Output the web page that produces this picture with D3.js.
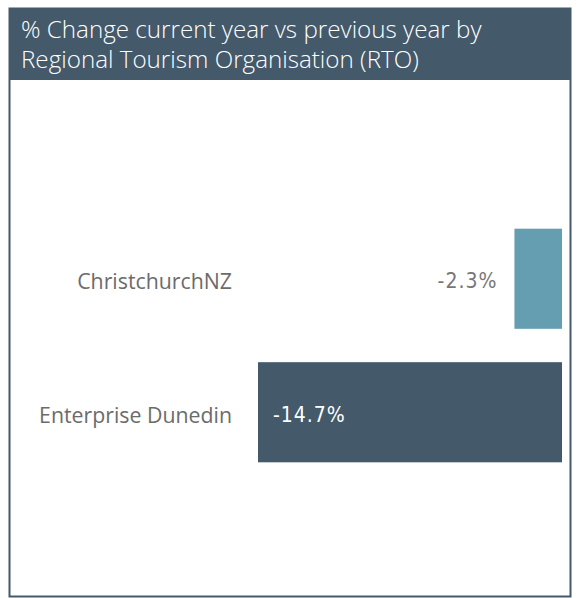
<!DOCTYPE html>
<html lang="en">
<head>
    <meta charset="UTF-8">
    <script src="https://d3js.org/d3.v7.min.js"></script>
    <title>% Change by RTO</title>
    <style>
        body { margin: 0; background: #fff; }
    </style>
</head>
<body>
    <script>
        // data
        const regions = ["ChristchurchNZ", "Enterprise Dunedin"];
        const changes = [-2.3, -14.7];
        const barColors = ["#669eb1", "#44596a"];
        const titleLines = ["% Change current year vs previous year by", "Regional Tourism Organisation (RTO)"];

        const w = 579;
        const h = 598;

        const svg = d3.select("body").append("svg")
            .attr("width", w)
            .attr("height", h);

        // frame + title band
        svg.append("rect")
            .attr("x", 9.5).attr("y", 8.5)
            .attr("width", 561).attr("height", 588)
            .attr("fill", "#fff")
            .attr("stroke", "#44596a")
            .attr("stroke-width", 2);

        svg.append("rect")
            .attr("x", 9).attr("y", 8)
            .attr("width", 562).attr("height", 72)
            .attr("fill", "#44596a");

        svg.selectAll("text.title")
            .data(titleLines)
            .enter()
            .append("text")
            .attr("class", "title")
            .attr("x", 21)
            .attr("y", (d, i) => 38 + i * 30)
            .attr("fill", "#fff")
            .style("font-family", "'Open Sans', 'Noto Sans', sans-serif")
            .style("font-weight", 300)
            .style("font-size", "24.2px")
            .text(d => d);

        // scales
        const x = d3.scaleLinear()
            .domain([d3.min(changes), 0])
            .range([258, 562]);

        const y = d3.scaleBand()
            .domain(regions)
            .range([212, 479])
            .paddingInner(0.25)
            .paddingOuter(0.125);

        const rows = regions.map((r, i) => ({ region: r, value: changes[i], color: barColors[i] }));

        svg.selectAll("rect.bar")
            .data(rows)
            .enter()
            .append("rect")
            .attr("class", "bar")
            .attr("x", d => x(d.value))
            .attr("y", d => y(d.region))
            .attr("width", d => x(0) - x(d.value))
            .attr("height", y.bandwidth())
            .attr("fill", d => d.color);

        // category labels
        svg.selectAll("text.cat")
            .data(rows)
            .enter()
            .append("text")
            .attr("class", "cat")
            .attr("x", 232)
            .attr("y", d => y(d.region) + y.bandwidth() / 2 + 3)
            .attr("dy", "0.35em")
            .attr("text-anchor", "end")
            .attr("fill", "#6b6b6b")
            .style("font-family", "'Open Sans', 'Noto Sans', sans-serif")
            .style("font-size", "21.3px")
            .text(d => d.region);

        // value labels: inside when bar is wide, else outside
        const inside = d => (x(0) - x(d.value)) > 80;
        svg.selectAll("text.val")
            .data(rows)
            .enter()
            .append("text")
            .attr("class", "val")
            .attr("x", d => inside(d) ? x(d.value) + 15 : x(d.value) - 17)
            .attr("y", d => y(d.region) + y.bandwidth() / 2 + 2)
            .attr("dy", "0.35em")
            .attr("text-anchor", d => inside(d) ? "start" : "end")
            .attr("fill", d => inside(d) ? "#fff" : "#777")
            .style("font-family", "'DejaVu Sans Condensed', 'Roboto', sans-serif")
            .style("font-size", "21px")
            .style("letter-spacing", "1px")
            .text(d => d.value.toFixed(1) + "%");
    </script>
</body>
</html>
